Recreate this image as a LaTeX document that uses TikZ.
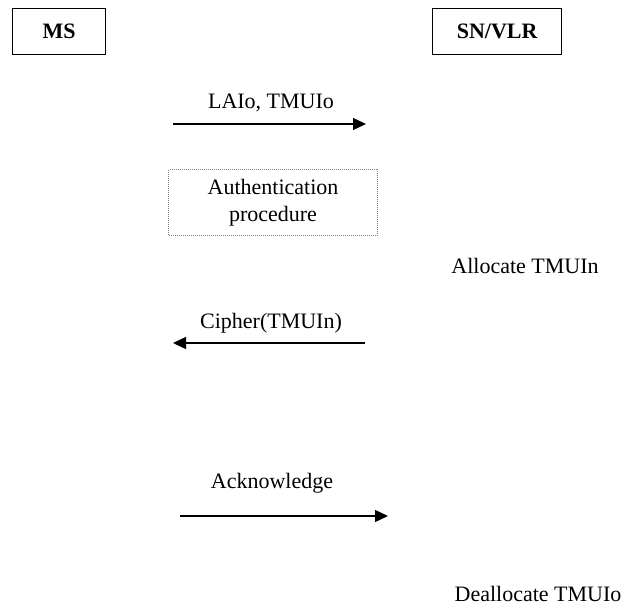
\documentclass[tikz,border=0pt]{standalone}
\usepackage{fontspec}
\setmainfont{Liberation Serif}
\usetikzlibrary{arrows.meta}
\begin{document}
\begin{tikzpicture}[x=1pt,y=-1pt,
  every node/.style={font=\fontsize{22}{27}\selectfont, inner sep=0pt},
  entity/.style={draw, line width=1.3pt, font=\fontsize{22}{27}\selectfont\bfseries, anchor=north west},
  msg/.style={line width=1.3pt, -{Triangle[length=13pt,width=12pt]}},
  procbox/.style={draw=gray, densely dotted, line width=1pt, align=center, anchor=north west}
]
\useasboundingbox (0,0) rectangle (624,607);
\node[entity, minimum width=93pt, minimum height=46pt] (ms) at (12,8) {MS};
\node[entity, minimum width=129pt, minimum height=46pt] (vlr) at (432,8) {SN/VLR};

\coordinate (a1s) at (173,124);
\coordinate (a1e) at (366,124);
\draw[msg] (a1s) -- (a1e);
\node (l1) at (271,103) {LAIo, TMUIo};

\node[procbox, minimum width=209pt, minimum height=66pt] (auth) at (168,169) {Authentication\\procedure};

\node (alloc) at (525,266) {Allocate TMUIn};

\coordinate (a2s) at (365,343);
\coordinate (a2e) at (173,343);
\draw[msg] (a2s) -- (a2e);
\node (l2) at (271,323) {Cipher(TMUIn)};

\node (l3) at (272,483) {Acknowledge};
\coordinate (a3s) at (180,516);
\coordinate (a3e) at (388,516);
\draw[msg] (a3s) -- (a3e);

\node (dealloc) at (538,594) {Deallocate TMUIo};
\end{tikzpicture}
\end{document}
